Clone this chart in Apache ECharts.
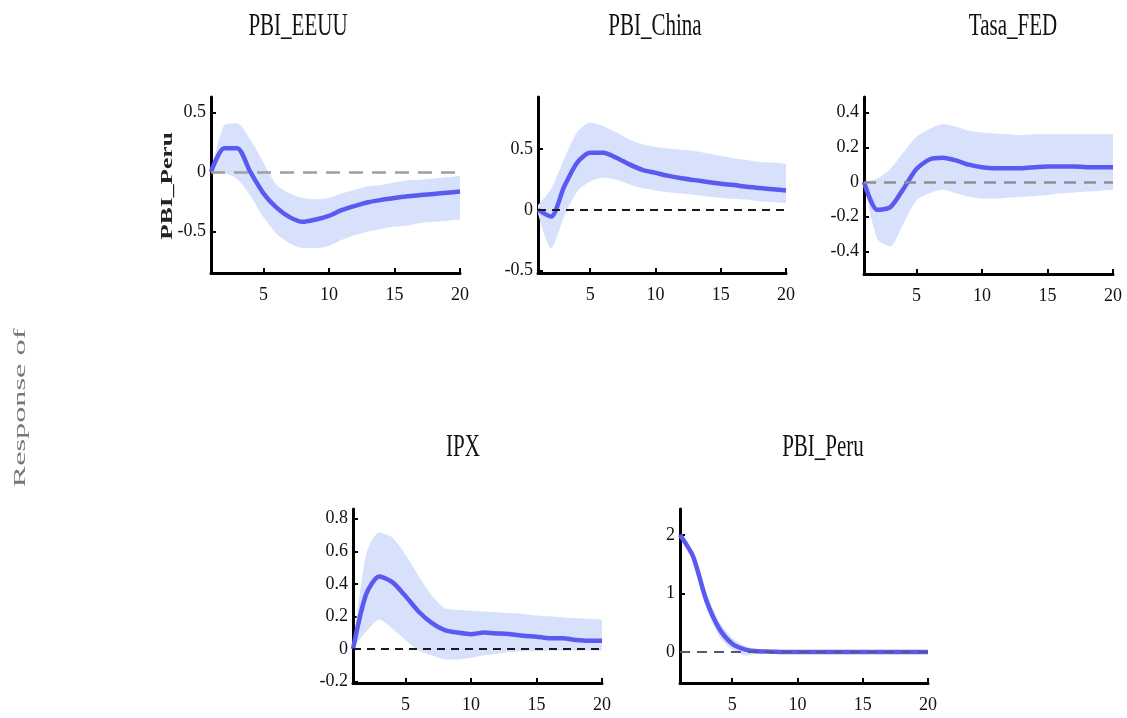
<!DOCTYPE html>
<html>
<head>
<meta charset="utf-8">
<script src="https://cdn.jsdelivr.net/npm/echarts@6.0.0/dist/echarts.min.js"></script>
<style>
html,body{margin:0;padding:0;background:#fff;}
#chart{width:1127px;height:718px;}
</style>
</head>
<body>
<div id="chart"></div>
<script>
// ---------- DATA ----------
const horizons = ['1','2','3','4','5','6','7','8','9','10','11','12','13','14','15','16','17','18','19','20'];
const shockNames = ['PBI_EEUU','PBI_China','Tasa_FED','IPX','PBI_Peru'];
const responseVar = 'PBI_Peru';
const superLabel = 'Response of';

const eeuuMedian = [0, 0.20, 0.20, 0.0, -0.18, -0.30, -0.38, -0.42, -0.40, -0.37, -0.32, -0.285, -0.255, -0.235, -0.22, -0.205, -0.195, -0.185, -0.175, -0.165];
const eeuuUpper  = [0, 0.39, 0.41, 0.27, 0.08, -0.11, -0.18, -0.22, -0.23, -0.22, -0.18, -0.15, -0.12, -0.11, -0.09, -0.07, -0.065, -0.055, -0.045, -0.035];
const eeuuLower  = [0, -0.01, -0.06, -0.20, -0.38, -0.52, -0.60, -0.64, -0.64, -0.62, -0.57, -0.53, -0.50, -0.48, -0.46, -0.45, -0.43, -0.42, -0.41, -0.40];

const chinaMedian = [0, -0.055, 0.19, 0.39, 0.47, 0.47, 0.43, 0.375, 0.33, 0.305, 0.28, 0.26, 0.245, 0.23, 0.215, 0.205, 0.19, 0.18, 0.17, 0.16];
const chinaUpper  = [0.04, 0.17, 0.42, 0.64, 0.72, 0.69, 0.64, 0.58, 0.54, 0.52, 0.505, 0.495, 0.485, 0.465, 0.445, 0.425, 0.41, 0.395, 0.39, 0.38];
const chinaLower  = [-0.03, -0.32, -0.055, 0.15, 0.235, 0.265, 0.25, 0.21, 0.18, 0.16, 0.145, 0.135, 0.125, 0.11, 0.10, 0.09, 0.085, 0.07, 0.065, 0.055];

const fedMedian = [0, -0.16, -0.145, -0.04, 0.075, 0.13, 0.14, 0.125, 0.10, 0.085, 0.08, 0.08, 0.08, 0.085, 0.09, 0.09, 0.09, 0.085, 0.085, 0.085];
const fedUpper  = [0, 0.02, 0.075, 0.17, 0.26, 0.305, 0.335, 0.32, 0.295, 0.285, 0.28, 0.275, 0.27, 0.275, 0.275, 0.275, 0.275, 0.275, 0.275, 0.275];
const fedLower  = [0, -0.325, -0.37, -0.24, -0.105, -0.065, -0.045, -0.065, -0.085, -0.095, -0.095, -0.09, -0.085, -0.08, -0.075, -0.065, -0.06, -0.055, -0.05, -0.045];

const ipxMedian = [0, 0.335, 0.445, 0.41, 0.325, 0.23, 0.16, 0.115, 0.10, 0.09, 0.10, 0.095, 0.09, 0.08, 0.075, 0.065, 0.065, 0.055, 0.05, 0.05];
const ipxUpper  = [0, 0.58, 0.715, 0.685, 0.58, 0.45, 0.33, 0.25, 0.24, 0.235, 0.23, 0.225, 0.22, 0.215, 0.205, 0.20, 0.195, 0.19, 0.185, 0.18];
const ipxLower  = [0, 0.105, 0.18, 0.125, 0.055, -0.01, -0.04, -0.065, -0.065, -0.055, -0.04, -0.03, -0.02, -0.015, -0.015, -0.01, -0.01, -0.01, -0.01, -0.01];

const peruMedian = [2.0, 1.63, 0.89, 0.40, 0.14, 0.04, 0.01, 0.005, 0, 0, 0, 0, 0, 0, 0, 0, 0, 0, 0, 0];
const peruUpper  = [2.0, 1.72, 1.03, 0.52, 0.24, 0.10, 0.045, 0.02, 0.01, 0.01, 0.01, 0.01, 0.01, 0.01, 0.01, 0.01, 0.01, 0.01, 0.01, 0.01];
const peruLower  = [2.0, 1.54, 0.76, 0.27, 0.04, -0.06, -0.035, -0.01, -0.005, -0.005, -0.005, -0.005, -0.005, -0.005, -0.005, -0.005, -0.005, -0.005, -0.005, -0.005];

const eeuuTicks  = [-0.5, 0, 0.5];
const chinaTicks = [-0.5, 0, 0.5];
const fedTicks   = [-0.4, -0.2, 0, 0.2, 0.4];
const ipxTicks   = [-0.2, 0, 0.2, 0.4, 0.6, 0.8];
const peruTicks  = [0, 1, 2];

// ---------- LAYOUT / STYLE ----------
const panels = [
  {name: shockNames[0], med: eeuuMedian, up: eeuuUpper, lo: eeuuLower, ticks: eeuuTicks,
   grid: {left: 211, top: 97, width: 249, height: 176}, min: -0.85, max: 0.63,
   title: [298, 27], zero: {color: '#9e9e9e', width: 2.5, type: [14, 9]}, zeroTop: false},
  {name: shockNames[1], med: chinaMedian, up: chinaUpper, lo: chinaLower, ticks: chinaTicks,
   grid: {left: 538, top: 97, width: 248, height: 176}, min: -0.52, max: 0.93,
   title: [655, 27], zero: {color: '#1a1a1a', width: 2, type: [8, 6]}, zeroTop: false},
  {name: shockNames[2], med: fedMedian, up: fedUpper, lo: fedLower, ticks: fedTicks,
   grid: {left: 864, top: 97, width: 249, height: 177}, min: -0.53, max: 0.49,
   title: [1013, 27], zero: {color: '#8f8f8f', width: 2.5, type: [12, 8]}, zeroTop: false},
  {name: shockNames[3], med: ipxMedian, up: ipxUpper, lo: ipxLower, ticks: ipxTicks,
   grid: {left: 353, top: 509, width: 249, height: 174}, min: -0.21, max: 0.86,
   title: [463, 448], zero: {color: '#1a1a1a', width: 2, type: [8, 6]}, zeroTop: false},
  {name: shockNames[4], med: peruMedian, up: peruUpper, lo: peruLower, ticks: peruTicks,
   grid: {left: 680, top: 509, width: 248, height: 174}, min: -0.53, max: 2.44,
   title: [823, 448], zero: {color: '#555a70', width: 2, type: [10, 7]}, zeroTop: true}
];

const fontFam = '"Liberation Serif", "DejaVu Serif", serif';
const lineColor = '#5a5af2';
const bandColor = '#d8e1fc';
const smoothness = 0.25;

const grids = [], xAxes = [], yAxes = [], series = [], graphics = [];
const showX = (i, v) => Number(v) % 5 === 0;

panels.forEach((p, i) => {
  grids.push(Object.assign({containLabel: false}, p.grid));
  xAxes.push({
    type: 'category', gridIndex: i, data: horizons, boundaryGap: false,
    axisLine: {onZero: false, lineStyle: {color: '#000', width: 3}},
    axisTick: {inside: true, length: 5, interval: showX, lineStyle: {color: '#000', width: 2}},
    axisLabel: {interval: showX, fontFamily: fontFam, fontSize: 18, color: '#111', margin: 13},
    splitLine: {show: false}
  });
  yAxes.push({
    type: 'value', gridIndex: i, min: p.min, max: p.max,
    axisLine: {show: true, lineStyle: {color: '#000', width: 3}},
    axisTick: {show: true, inside: true, length: 5, customValues: p.ticks, lineStyle: {color: '#000', width: 2}},
    axisLabel: {customValues: p.ticks, fontFamily: fontFam, fontSize: 18, color: '#111', margin: 5},
    splitLine: {show: false}
  });
  const zeroMark = {
    silent: true, symbol: ['none', 'none'], label: {show: false},
    lineStyle: {color: p.zero.color, width: p.zero.width, type: p.zero.type},
    data: [{yAxis: 0}], animation: false
  };
  series.push({
    type: 'line', xAxisIndex: i, yAxisIndex: i, data: p.lo, stack: 'band' + i, stackStrategy: 'all',
    symbol: 'none', lineStyle: {opacity: 0}, silent: true, z: 1, smooth: smoothness
  });
  series.push({
    type: 'line', xAxisIndex: i, yAxisIndex: i, data: p.up.map((u, k) => u - p.lo[k]),
    stack: 'band' + i, stackStrategy: 'all', symbol: 'none', lineStyle: {opacity: 0},
    areaStyle: {color: bandColor, opacity: 1}, silent: true, z: 1, smooth: smoothness,
    markLine: p.zeroTop ? undefined : zeroMark
  });
  series.push({
    type: 'line', xAxisIndex: i, yAxisIndex: i, data: p.med, symbol: 'none', z: 3, smooth: smoothness,
    lineStyle: {color: lineColor, width: 4.5}, itemStyle: {color: lineColor},
    markLine: p.zeroTop ? zeroMark : undefined
  });
  graphics.push({
    type: 'text', x: p.title[0], y: p.title[1], scaleY: 1.5,
    style: {text: p.name, font: '21px ' + fontFam, fill: '#111', align: 'center', verticalAlign: 'middle'}
  });
});

graphics.push({
  type: 'text', x: 168, y: 186, rotation: Math.PI / 2, scaleX: 1.5,
  style: {text: responseVar, font: 'bold 17px ' + fontFam, fill: '#222', align: 'center', verticalAlign: 'middle'}
});
graphics.push({
  type: 'text', x: 21, y: 408, rotation: Math.PI / 2, scaleX: 1.9,
  style: {text: superLabel, font: '17px ' + fontFam, fill: '#777', align: 'center', verticalAlign: 'middle'}
});

const chart = echarts.init(document.getElementById('chart'), null, {renderer: 'canvas'});
chart.setOption({
  backgroundColor: '#fff',
  animation: false,
  grid: grids, xAxis: xAxes, yAxis: yAxes, series: series,
  graphic: graphics
});
</script>
</body>
</html>
